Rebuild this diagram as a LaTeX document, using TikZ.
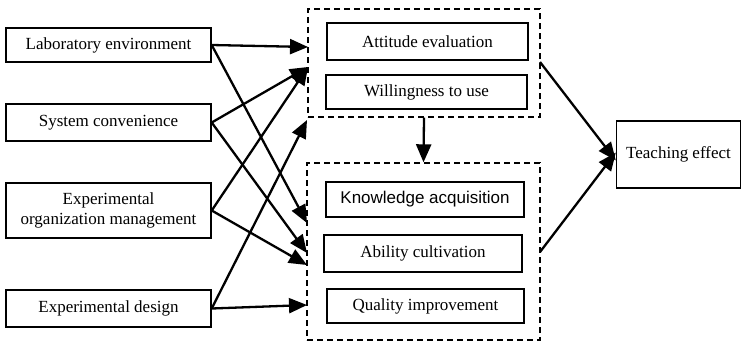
\documentclass[tikz,border=0pt]{standalone}
\usepackage{fontspec}
\setmainfont{Liberation Serif}
\newfontfamily\arialfont{Liberation Sans}
\usetikzlibrary{arrows.meta}
\begin{document}
\begin{tikzpicture}[x=1pt,y=-1pt,
    box/.style={draw=black, line width=1.4pt, minimum width=#1, inner sep=0pt, align=center, font=\fontsize{17}{19.5}\selectfont},
    grp/.style={draw=black, line width=1.4pt, dash pattern=on 6pt off 4pt, inner sep=0pt},
    arr/.style={line width=2.3pt, -{Triangle[length=18pt,width=15pt]}}]
      \useasboundingbox (0,0) rectangle (741,341);
      \node[box=205pt, minimum height=34pt] (lab) at (108.5,45) {Laboratory environment};
      \node[box=205pt, minimum height=37pt] (sys) at (108.5,122.5) {System convenience};
      \node[box=205pt, minimum height=55pt] (org) at (108.5,210.5) {Experimental\\organization management};
      \node[box=205pt, minimum height=37pt] (des) at (108.5,308.5) {Experimental design};
      \node[grp, minimum width=232pt, minimum height=108pt] (attg) at (424,63) {};
      \node[grp, minimum width=233pt, minimum height=177pt] (resg) at (423.5,251.5) {};
      \node[box=201pt, minimum height=37pt] (att) at (427.5,41.5) {Attitude evaluation};
      \node[box=201pt, minimum height=34pt] (wil) at (426.5,92) {Willingness to use};
      \node[box=198pt, minimum height=35pt, font=\fontsize{17}{19.5}\arialfont] (kno) at (425,199.5) {Knowledge acquisition};
      \node[box=198pt, minimum height=37pt] (abi) at (423,253.5) {Ability cultivation};
      \node[box=197pt, minimum height=34pt] (qua) at (425.5,306) {Quality improvement};
      \node[box=124pt, minimum height=67pt] (teach) at (678.5,154.5) {Teaching effect};
      \coordinate (t1) at (308,47);
      \coordinate (t2) at (308,67);
      \coordinate (t3) at (307,120);
      \coordinate (b1) at (307,223);
      \coordinate (b2) at (307,253);
      \coordinate (b3) at (307,265);
      \coordinate (b4) at (307,305);
      \coordinate (o1) at (540,62);
      \coordinate (o2) at (540,252);
      \draw[arr] (lab.east) -- (t1);
      \draw[arr] (lab.east) -- (b1);
      \draw[arr] (sys.east) -- (t2);
      \draw[arr] (sys.east) -- (b2);
      \draw[arr] (org.east) -- (t2);
      \draw[arr] (org.east) -- (b3);
      \draw[arr] (des.east) -- (t3);
      \draw[arr] (des.east) -- (b4);
      \draw[arr] (attg.south) -- (resg.north);
      \draw[arr] (o1) -- ([yshift=-6pt]teach.west);
      \draw[arr] (o2) -- ([yshift=2pt]teach.west);
    \end{tikzpicture}
\end{document}
